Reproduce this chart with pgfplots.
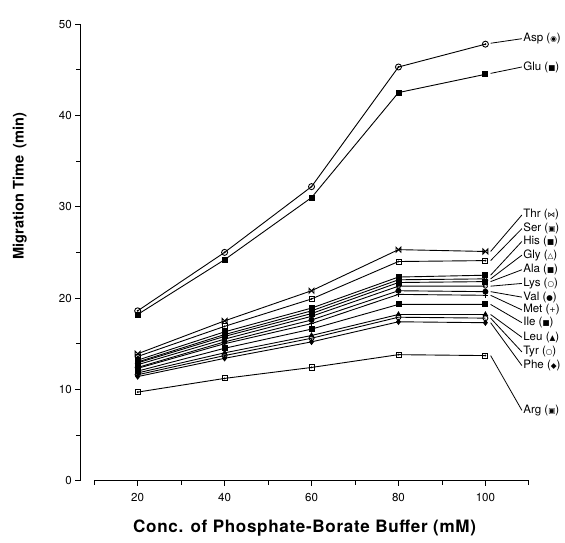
\documentclass[border=0pt]{standalone}
\usepackage{pgfplots}
\pgfplotsset{compat=1.18}
\usepackage{fontspec}
\setmainfont{TeX Gyre Heros}
\newfontfamily\sym{DejaVu Sans}
\newfontfamily\wide[LetterSpace=4]{TeX Gyre Heros}
\pgfdeclareplotmark{sqdot}{%
  \pgfpathrectangle{\pgfpoint{-\pgfplotmarksize}{-\pgfplotmarksize}}{\pgfpoint{2\pgfplotmarksize}{2\pgfplotmarksize}}%
  \pgfusepathqstroke
  \pgfsetfillcolor{black}%
  \pgfpathcircle{\pgfpointorigin}{0.4\pgfplotmarksize}\pgfusepathqfill}
\pgfdeclareplotmark{cdot}{%
  \pgfpathcircle{\pgfpointorigin}{\pgfplotmarksize}\pgfusepathqstroke
  \pgfsetfillcolor{black}%
  \pgfpathcircle{\pgfpointorigin}{0.35\pgfplotmarksize}\pgfusepathqfill}
\pgfdeclareplotmark{bowtie}{%
  \pgfpathmoveto{\pgfpoint{-\pgfplotmarksize}{-\pgfplotmarksize}}%
  \pgfpathlineto{\pgfpoint{\pgfplotmarksize}{\pgfplotmarksize}}%
  \pgfpathlineto{\pgfpoint{\pgfplotmarksize}{-\pgfplotmarksize}}%
  \pgfpathlineto{\pgfpoint{-\pgfplotmarksize}{\pgfplotmarksize}}%
  \pgfpathclose\pgfusepathqstroke}
\begin{document}
\begin{tikzpicture}
\begin{axis}[
  scale only axis, width=447pt, height=455pt,
  xmin=6.8, xmax=110, ymin=0, ymax=50,
  clip=false,
  axis x line=bottom, axis y line=left,
  axis line style={-, black, thick},
  x axis line style={draw=none},
  xtick={20,40,60,80,100}, minor xtick={10,30,50,70,90,110},
  ytick={0,10,20,30,40,50}, minor ytick={5,15,25,35,45},
  tick align=outside, tick style={black, thick},
  major tick length=5pt, minor tick length=4pt,
  ticklabel style={font=\fontsize{11.5}{13}\selectfont},
  xticklabel style={yshift=-4pt},
  /pgf/number format/assume math mode=true,
  xlabel={\wide\bfseries Conc. of Phosphate-Borate Buffer (mM)},
  ylabel={\bfseries Migration Time\enspace(min)},
  xlabel style={font=\fontsize{17}{19}\selectfont, at={(axis description cs:0.5,0)}, anchor=center, yshift=-47pt},
  ylabel style={font=\fontsize{14.5}{16}\selectfont, at={(axis description cs:-0.135,0.645)}, anchor=center},
  every axis plot/.append style={black, line width=0.9pt, mark size=2.5pt, mark options={solid, line width=0.9pt, fill=white}},
]
% Asp
\addplot[mark=cdot, mark size=3pt] coordinates {(20,18.6) (40,25.0) (60,32.2) (80,45.3) (100,47.8)};
% Glu
\addplot[mark=square*, mark options={fill=black}] coordinates {(20,18.2) (40,24.2) (60,31.0) (80,42.5) (100,44.5)};
% Thr
\addplot[mark=bowtie] coordinates {(20,13.9) (40,17.5) (60,20.8) (80,25.3) (100,25.1)};
% Ser
\addplot[mark=sqdot] coordinates {(20,13.6) (40,16.9) (60,19.9) (80,24.0) (100,24.1)};
% His
\addplot[mark=square*, mark options={fill=black}] coordinates {(20,13.2) (40,16.3) (60,18.9) (80,22.3) (100,22.5)};
% Gly
\addplot[mark=triangle] coordinates {(20,13.0) (40,16.0) (60,18.6) (80,22.0) (100,22.1)};
% Ala
\addplot[mark=square*, mark options={fill=black}] coordinates {(20,12.9) (40,15.8) (60,18.3) (80,21.7) (100,21.8)};
% Lys
\addplot[mark=o, mark size=2pt] coordinates {(20,12.7) (40,15.5) (60,18.0) (80,21.3) (100,21.3)};
% Val
\addplot[mark=*, mark options={fill=black}] coordinates {(20,12.4) (40,15.2) (60,17.6) (80,20.8) (100,20.7)};
% Met
\addplot[mark=+] coordinates {(20,12.3) (40,15.0) (60,17.2) (80,20.4) (100,20.3)};
% Ile
\addplot[mark=square*, mark options={fill=black}] coordinates {(20,12.0) (40,14.5) (60,16.6) (80,19.3) (100,19.3)};
% Leu
\addplot[mark=triangle*, mark options={fill=black}] coordinates {(20,11.8) (40,14.0) (60,15.9) (80,18.2) (100,18.2)};
% Tyr
\addplot[mark=o] coordinates {(20,11.6) (40,13.7) (60,15.6) (80,17.9) (100,17.8)};
% Phe
\addplot[mark=diamond*, mark options={fill=black}] coordinates {(20,11.4) (40,13.4) (60,15.2) (80,17.4) (100,17.3)};
% Arg
\addplot[mark=sqdot] coordinates {(20,9.7) (40,11.2) (60,12.4) (80,13.8) (100,13.7)};

% detached x axis line
\draw[black, thick] (axis cs:10,0) -- (axis cs:110,0);

% leader lines and labels
\begin{scope}[every node/.style={right, inner sep=1pt, font=\fontsize{11.5}{13}\selectfont}, line width=0.8pt]
\newcommand\lbl[4]{\draw (axis cs:101.2,#1) -- (axis cs:108.4,#2) node {#3\ ({\sym\fontsize{7.5}{8}\selectfont #4})};}
\lbl{47.9}{48.4}{Asp}{◉}
\lbl{44.6}{45.3}{Glu}{■}
\lbl{25.1}{29.1}{Thr}{⋈}
\lbl{24.1}{27.6}{Ser}{▣}
\lbl{22.5}{26.2}{His}{■}
\lbl{22.1}{24.7}{Gly}{△}
\lbl{21.8}{23.1}{Ala}{■}
\lbl{21.3}{21.6}{Lys}{○}
\lbl{20.7}{20.1}{Val}{●}
\lbl{20.3}{18.7}{Met}{+}
\lbl{19.3}{17.3}{Ile}{■}
\lbl{18.2}{15.7}{Leu}{▲}
\lbl{17.8}{14.1}{Tyr}{○}
\lbl{17.3}{12.6}{Phe}{◆}
\lbl{13.7}{7.7}{Arg}{▣}
\end{scope}
% page margins like the reference
\path (rel axis cs:0,1) ++(-80pt,24pt) coordinate (tl);
\path (rel axis cs:1,0) ++(36pt,-62pt) coordinate (br);
\end{axis}
\end{tikzpicture}
\end{document}
